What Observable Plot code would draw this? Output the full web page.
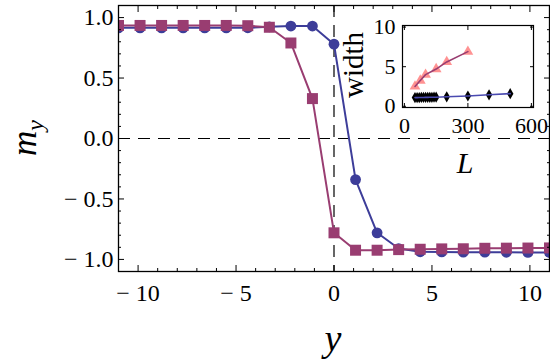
<!DOCTYPE html>
<html><head><meta charset="utf-8">
<script src="https://cdn.jsdelivr.net/npm/d3@7"></script>
<script src="https://cdn.jsdelivr.net/npm/@observablehq/plot@0.6"></script>
<style>
body{margin:0;background:#fff;}
#wrap{position:relative;width:550px;height:362px;overflow:hidden;font-family:"Liberation Serif",serif;}
#wrap svg{position:absolute;font-family:"Liberation Serif",serif;}
#wrap svg text{font-family:"Liberation Serif",serif !important;}
.lab{position:absolute;font-family:"Liberation Serif",serif;color:#000;white-space:nowrap;line-height:1;transform:translate(-50%,-50%);}
.rot{transform:translate(-50%,-50%) rotate(-90deg);}
</style></head><body><div id="wrap"></div>
<script>
// ---- main panel data ----
const sites = [-11,-9.9,-8.8,-7.7,-6.6,-5.5,-4.4,-3.3,-2.2,-1.1,0,1.1,2.2,3.3,4.4,5.5,6.6,7.7,8.8,9.9,11];
const myCircle = [0.915,0.915,0.915,0.915,0.915,0.915,0.916,0.924,0.93,0.93,0.78,-0.34,-0.78,-0.91,-0.937,-0.938,-0.94,-0.94,-0.941,-0.942,-0.943];
const mySquare = [0.935,0.935,0.935,0.935,0.935,0.935,0.933,0.92,0.79,0.33,-0.78,-0.924,-0.924,-0.919,-0.916,-0.913,-0.912,-0.908,-0.907,-0.906,-0.905];
const xMajor = [-10,-5,0,5,10];
const xMajorLabels = ["\u2212 10","\u2212 5","0","5","10"];
const xMinor = [-11,-9,-8,-7,-6,-4,-3,-2,-1,1,2,3,4,6,7,8,9,11];
const yMajor = [-1,-0.5,0,0.5,1];
const yMajorLabels = ["\u2212 1.0","\u2212 0.5","0.0","0.5","1.0"];
const yMinor = [-0.9,-0.8,-0.7,-0.6,-0.4,-0.3,-0.2,-0.1,0.1,0.2,0.3,0.4,0.6,0.7,0.8,0.9];
// ---- inset data ----
const Ltri = [50,75,100,150,200,300];
const wTri = [2.5,3.25,4.0,4.7,5.6,6.9];
const Ldia = [50,60,70,80,90,100,110,120,130,140,150,200,300,400,500];
const wDia = [1.1,1.1,1.11,1.12,1.12,1.13,1.13,1.14,1.14,1.15,1.15,1.2,1.3,1.45,1.6];
const insetXTicks = [0,300,600];
const insetYTicks = [0,5,10];

const BLUE = "#3d3d99", MAG = "#993d71";
const FONT = "Liberation Serif";
const circ = sites.map((x,i)=>({x, m: myCircle[i]}));
const sq = sites.map((x,i)=>({x, m: mySquare[i]}));
const tri = Ltri.map((L,i)=>({L, w: wTri[i]}));
const dia = Ldia.map((L,i)=>({L, w: wDia[i]}));

const fmt = (arr, labs) => d => labs[arr.indexOf(d)];
const tickSet = (axis, anchor, ticks, size) =>
  (axis === "x" ? Plot.axisX : Plot.axisY)({anchor, ticks, tickSize: -size, fill: "none", label: null, strokeWidth: 1});

const main = Plot.plot({
  width: 550, height: 362,
  marginLeft: 118, marginRight: 1, marginTop: 5, marginBottom: 91,
  style: {background: "transparent", overflow: "visible", fontFamily: FONT},
  x: {domain: [-11, 11]},
  y: {domain: [-1.1, 1.1]},
  marks: [
    Plot.ruleY([0], {stroke: "#000", strokeWidth: 1.2, strokeDasharray: "12,8"}),
    Plot.ruleX([0], {stroke: "#000", strokeWidth: 1.2, strokeDasharray: "12,8"}),
    Plot.line(circ, {x: "x", y: "m", stroke: BLUE, strokeWidth: 2, clip: true}),
    Plot.dot(circ, {x: "x", y: "m", r: 5.4, fill: BLUE, stroke: "none", clip: true}),
    Plot.line(sq, {x: "x", y: "m", stroke: MAG, strokeWidth: 2, clip: true}),
    Plot.dot(sq, {x: "x", y: "m", r: 6.2, symbol: "square", fill: MAG, stroke: "none", clip: true}),
    tickSet("x","bottom",xMajor,6), tickSet("x","bottom",xMinor,3),
    tickSet("x","top",xMajor,6), tickSet("x","top",xMinor,3),
    tickSet("y","left",yMajor,6), tickSet("y","left",yMinor,3),
    tickSet("y","right",yMajor,6), tickSet("y","right",yMinor,3),
    Plot.axisX({ticks: xMajor, tickSize: 0, tickPadding: 12, tickFormat: fmt(xMajor, xMajorLabels), fontSize: 24, fontFamily: FONT, label: null}),
    Plot.axisY({ticks: yMajor, tickSize: 0, tickPadding: 5, tickFormat: fmt(yMajor, yMajorLabels), fontSize: 24, fontFamily: FONT, label: null}),
    Plot.frame({stroke: "#000", strokeWidth: 1.3})
  ]
});
main.style.left = "0px"; main.style.top = "0px";

const inset = Plot.plot({
  width: 220, height: 180,
  marginLeft: 72, marginRight: 17, marginTop: 25, marginBottom: 73,
  style: {background: "transparent", overflow: "visible", fontFamily: FONT},
  x: {domain: [-9, 610]},
  y: {domain: [-0.15, 10.2]},
  marks: [
    Plot.dot(tri, {x: "L", y: "w", symbol: "triangle", r: 4, fill: "#ff7f7f", fillOpacity: 0.85, stroke: "none"}),
    Plot.line(tri, {x: "L", y: "w", stroke: MAG, strokeWidth: 1.6}),
    Plot.dot(dia, {x: "L", y: "w", symbol: "diamond", r: 3.4, fill: "#000", stroke: "none"}),
    Plot.line(dia, {x: "L", y: "w", stroke: "#4a4ab0", strokeWidth: 1.6}),
    tickSet("x","bottom",insetXTicks,4), tickSet("x","top",insetXTicks,4),
    tickSet("y","left",insetYTicks,4), tickSet("y","right",insetYTicks,4),
    Plot.axisX({ticks: insetXTicks, tickSize: 0, tickPadding: 10, fontSize: 22, fontFamily: FONT, label: null}),
    Plot.axisY({ticks: insetYTicks, tickSize: 0, tickPadding: 7, fontSize: 22, fontFamily: FONT, label: null}),
    Plot.frame({stroke: "#000", strokeWidth: 1.2})
  ]
});
inset.style.left = "330px"; inset.style.top = "0px";

const wrap = document.getElementById("wrap");
wrap.appendChild(main);
wrap.appendChild(inset);

function addLabel(html, cx, cy, size, cls) {
  const d = document.createElement("div");
  d.className = "lab" + (cls ? " " + cls : "");
  d.style.left = cx + "px"; d.style.top = cy + "px"; d.style.fontSize = size + "px";
  d.innerHTML = html;
  wrap.appendChild(d);
}
addLabel('<i>m</i><i style="font-size:24px;position:relative;top:0.3em;">y</i>', 24, 138, 35, "rot");
addLabel('<i>y</i>', 333, 338, 38);
addLabel('<i>L</i>', 465, 163, 30);
addLabel('width', 353, 65, 29, "rot");
</script></body></html>
